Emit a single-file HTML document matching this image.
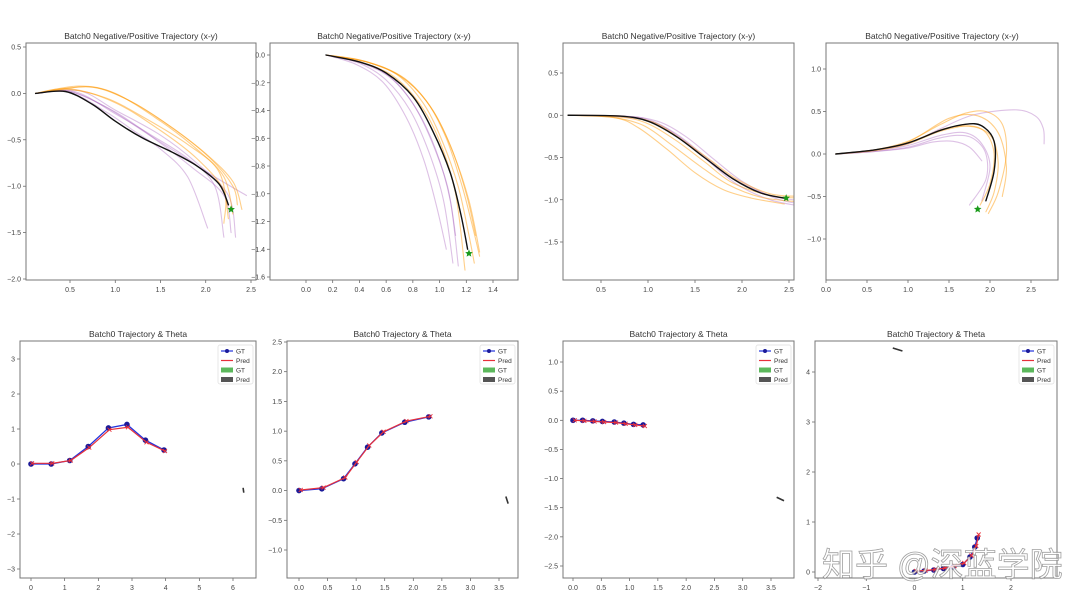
<!DOCTYPE html>
<html><head><meta charset="utf-8">
<style>
html,body{margin:0;padding:0;background:#fff;}
svg{display:block;font-family:"Liberation Sans","Noto Sans CJK SC",sans-serif;}
</style></head>
<body>
<svg id="chart" width="1080" height="608" viewBox="0 0 1080 608" xmlns="http://www.w3.org/2000/svg"></svg>
<script>
// ---- data ----
const p1Black=[[0.12,0],[0.45,0.02],[0.75,-0.12],[1.0,-0.3],[1.3,-0.48],[1.6,-0.62],[1.9,-0.78],[2.15,-0.98],[2.25,-1.2]];
const p1Orange=[
[[0.12,0],[0.5,0.06],[0.8,0.06],[1.2,-0.1],[1.6,-0.35],[2.0,-0.65],[2.3,-0.95],[2.4,-1.25]],
[[0.12,0],[0.6,0.08],[1.0,0.0],[1.5,-0.3],[1.9,-0.6],[2.2,-0.9],[2.3,-1.3]],
[[0.12,0],[0.5,0.04],[0.9,-0.05],[1.3,-0.25],[1.8,-0.55],[2.15,-0.85],[2.25,-1.35]],
[[0.12,0],[0.7,0.07],[1.1,-0.05],[1.6,-0.35],[2.05,-0.7],[2.3,-1.0],[2.35,-1.2]],
[[0.12,0],[0.5,0.05],[1.0,-0.1],[1.5,-0.4],[1.9,-0.7],[2.2,-1.05],[2.2,-1.4]]];
const p1Purple=[
[[0.12,0],[0.5,0.02],[0.9,-0.15],[1.3,-0.4],[1.7,-0.65],[2.1,-0.9],[2.45,-1.1]],
[[0.12,0],[0.5,0.01],[0.9,-0.2],[1.2,-0.4],[1.5,-0.6],[1.8,-0.9],[2.02,-1.45]],
[[0.12,0],[0.55,0.02],[1.0,-0.22],[1.4,-0.45],[1.8,-0.7],[2.1,-1.0],[2.2,-1.55]],
[[0.12,0],[0.6,0.03],[1.0,-0.18],[1.5,-0.45],[1.9,-0.75],[2.25,-1.1],[2.33,-1.55]],
[[0.12,0],[0.5,0.02],[1.0,-0.2],[1.45,-0.5],[1.85,-0.8],[2.2,-1.1],[2.28,-1.5]]];
const p1Star=[2.28,-1.25];

const p2Black=[[0.15,0],[0.4,-0.05],[0.6,-0.13],[0.8,-0.3],[0.95,-0.55],[1.08,-0.85],[1.16,-1.15],[1.21,-1.4]];
const p2Orange=[
[[0.15,0],[0.45,-0.05],[0.7,-0.15],[0.9,-0.33],[1.05,-0.6],[1.17,-0.95],[1.25,-1.25],[1.3,-1.45]],
[[0.15,0],[0.42,-0.04],[0.68,-0.14],[0.88,-0.35],[1.02,-0.62],[1.14,-0.95],[1.22,-1.3],[1.26,-1.5]],
[[0.15,0],[0.45,-0.05],[0.72,-0.16],[0.93,-0.37],[1.08,-0.65],[1.2,-1.0],[1.27,-1.3]],
[[0.15,0],[0.4,-0.05],[0.65,-0.15],[0.85,-0.35],[1.0,-0.62],[1.12,-1.0],[1.19,-1.55]],
[[0.15,0],[0.46,-0.05],[0.74,-0.17],[0.95,-0.4],[1.1,-0.7],[1.22,-1.05],[1.3,-1.42]]];
const p2Purple=[
[[0.15,0],[0.4,-0.06],[0.6,-0.18],[0.78,-0.4],[0.92,-0.7],[1.03,-1.05],[1.1,-1.5]],
[[0.15,0],[0.38,-0.07],[0.58,-0.2],[0.75,-0.45],[0.88,-0.75],[0.98,-1.1],[1.05,-1.4]],
[[0.15,0],[0.42,-0.06],[0.64,-0.17],[0.82,-0.38],[0.97,-0.68],[1.08,-1.05],[1.14,-1.52]],
[[0.15,0],[0.4,-0.05],[0.62,-0.15],[0.8,-0.35],[0.94,-0.62],[1.06,-0.95],[1.12,-1.3]]];
const p2Star=[1.22,-1.43];

const p3Black=[[0.15,0],[0.7,-0.01],[1.0,-0.07],[1.3,-0.25],[1.6,-0.5],[1.9,-0.75],[2.2,-0.92],[2.45,-0.98]];
const p3Orange=[
[[0.15,0],[0.7,-0.02],[1.0,-0.1],[1.3,-0.3],[1.6,-0.55],[1.9,-0.8],[2.3,-0.95],[2.6,-0.98]],
[[0.15,0],[0.6,-0.02],[0.95,-0.12],[1.25,-0.35],[1.55,-0.6],[1.85,-0.82],[2.2,-0.97],[2.55,-1.02]],
[[0.15,0],[0.65,-0.03],[0.9,-0.15],[1.2,-0.4],[1.5,-0.68],[1.8,-0.88],[2.1,-0.98],[2.45,-1.05]],
[[0.15,0],[0.7,-0.01],[1.05,-0.08],[1.35,-0.28],[1.65,-0.52],[1.95,-0.76],[2.3,-0.93],[2.62,-0.96]]];
const p3Purple=[
[[0.15,0],[0.7,-0.01],[1.0,-0.05],[1.3,-0.22],[1.6,-0.48],[1.9,-0.74],[2.3,-0.95],[2.7,-1.02]],
[[0.15,0],[0.7,-0.02],[1.05,-0.08],[1.35,-0.27],[1.65,-0.55],[1.95,-0.82],[2.3,-1.0],[2.65,-1.08]],
[[0.15,0],[0.75,-0.01],[1.1,-0.07],[1.4,-0.25],[1.7,-0.52],[2.0,-0.78],[2.35,-0.98],[2.62,-1.05]]];
const p3Star=[2.47,-0.98];

const p4Black=[[0.12,0],[0.6,0.05],[1.0,0.13],[1.4,0.28],[1.7,0.35],[1.9,0.33],[2.05,0.15],[2.05,-0.2],[1.95,-0.55]];
const p4Orange=[
[[0.12,0],[0.6,0.05],[1.0,0.15],[1.4,0.35],[1.7,0.48],[1.95,0.5],[2.15,0.35],[2.2,0.0],[2.1,-0.45],[1.98,-0.7]],
[[0.12,0],[0.6,0.04],[1.0,0.12],[1.4,0.27],[1.75,0.33],[1.95,0.25],[2.05,0.0],[2.0,-0.35],[1.88,-0.6]],
[[0.12,0],[0.6,0.05],[1.0,0.13],[1.45,0.3],[1.8,0.32],[2.02,0.2],[2.1,-0.1],[2.05,-0.45],[1.95,-0.68]],
[[0.12,0],[0.6,0.05],[1.0,0.14],[1.5,0.42],[1.85,0.45],[2.1,0.25],[2.2,-0.15],[2.15,-0.5]]];
const p4Purple=[
[[0.12,0],[0.6,0.05],[1.0,0.12],[1.4,0.3],[1.8,0.46],[2.3,0.52],[2.55,0.45],[2.65,0.3],[2.66,0.12]],
[[0.12,0],[0.6,0.03],[1.0,0.08],[1.35,0.18],[1.6,0.22],[1.8,0.18],[1.95,0.0],[1.95,-0.3],[1.75,-0.6]],
[[0.12,0],[0.6,0.03],[1.0,0.07],[1.3,0.14],[1.55,0.15],[1.75,0.08],[1.9,-0.08]],
[[0.12,0],[0.6,0.04],[1.0,0.1],[1.4,0.22],[1.7,0.25],[1.9,0.12],[2.0,-0.15],[1.9,-0.55]]];
const p4Star=[1.85,-0.65];

const p5X=[0,0.6,1.15,1.7,2.3,2.85,3.4,3.95];
const p5GT=[0,0,0.1,0.5,1.03,1.13,0.68,0.4];
const p5Pred=[0.02,0.02,0.1,0.47,0.98,1.05,0.62,0.37];
const p5Arrow=[[6.3,-0.68],[6.32,-0.82]];

const p6X=[0,0.4,0.78,0.98,1.2,1.45,1.85,2.27];
const p6GT=[0,0.03,0.2,0.45,0.73,0.97,1.15,1.24];
const p6Pred=[0.01,0.05,0.22,0.48,0.76,0.99,1.17,1.25];
const p6Arrow=[[3.62,-0.1],[3.66,-0.22]];

const p7X=[0,0.17,0.35,0.52,0.73,0.9,1.07,1.24];
const p7GT=[0,0,-0.01,-0.02,-0.03,-0.05,-0.07,-0.08];
const p7Pred=[0,-0.01,-0.02,-0.03,-0.04,-0.06,-0.08,-0.1];
const p7Arrow=[[3.6,-1.32],[3.73,-1.38]];

const p8X=[0,0.2,0.4,0.6,0.8,1.0,1.15,1.25,1.3];
const p8GT=[0,0.02,0.04,0.07,0.1,0.15,0.3,0.5,0.68];
const p8Pred=[0.02,0.03,0.05,0.08,0.12,0.18,0.33,0.52,0.75];
const p8Arrow=[[-0.45,4.48],[-0.25,4.42]];

// ---- panel frames / axis anchors ----
const panels=[
 {t:'Batch0 Negative/Positive Trajectory (x-y)',L:26,R:256,T:43,B:280,xa:[0.5,70,2.5,251],ya:[0.5,47,-2.0,279],xt:[0.5,1.0,1.5,2.0,2.5],yt:[0.5,0,-0.5,-1,-1.5,-2],d:1},
 {t:'Batch0 Negative/Positive Trajectory (x-y)',L:270,R:518,T:43,B:280,xa:[0,306,1.4,493],ya:[0,55,-1.6,277],xt:[0,0.2,0.4,0.6,0.8,1.0,1.2,1.4],yt:[0,-0.2,-0.4,-0.6,-0.8,-1,-1.2,-1.4,-1.6],d:1},
 {t:'Batch0 Negative/Positive Trajectory (x-y)',L:563,R:794,T:43,B:280,xa:[0.5,601,2.5,789],ya:[0.5,73,-1.5,242],xt:[0.5,1,1.5,2,2.5],yt:[0.5,0,-0.5,-1,-1.5],d:1},
 {t:'Batch0 Negative/Positive Trajectory (x-y)',L:826,R:1058,T:43,B:280,xa:[0,826,2.5,1031],ya:[1,69,-1,239],xt:[0,0.5,1,1.5,2,2.5],yt:[1,0.5,0,-0.5,-1],d:1},
 {t:'Batch0 Trajectory & Theta',L:20,R:256,T:341,B:578,xa:[0,31,6,233],ya:[3,359,-3,569],xt:[0,1,2,3,4,5,6],yt:[3,2,1,0,-1,-2,-3],d:0,leg:1},
 {t:'Batch0 Trajectory & Theta',L:287,R:518,T:341,B:578,xa:[0,299,3.5,499],ya:[2.5,342,-1,550],xt:[0,0.5,1,1.5,2,2.5,3,3.5],yt:[2.5,2,1.5,1,0.5,0,-0.5,-1],d:1,leg:1},
 {t:'Batch0 Trajectory & Theta',L:563,R:794,T:341,B:578,xa:[0,573,3.5,771],ya:[1,362,-2.5,566],xt:[0,0.5,1,1.5,2,2.5,3,3.5],yt:[1,0.5,0,-0.5,-1,-1.5,-2,-2.5],d:1,leg:1},
 {t:'Batch0 Trajectory & Theta',L:815,R:1057,T:341,B:578,xa:[-2,818,2,1011],ya:[4,372,0,572],xt:[-2,-1,0,1,2],yt:[4,3,2,1,0],d:0,leg:1}
];

const svg=document.getElementById('chart');
const NS='http://www.w3.org/2000/svg';
function mk(tag,attrs,parent){const e=document.createElementNS(NS,tag);for(const k in attrs)e.setAttribute(k,attrs[k]);(parent||svg).appendChild(e);return e;}
function scale(a){return v=>a[1]+(v-a[0])*(a[3]-a[1])/(a[2]-a[0]);}
function fmt(v,d){let s=d?v.toFixed(1):String(Math.round(v));return s.replace('-','\u2212');}
function smooth(pts){
 let d='M'+pts[0][0]+','+pts[0][1];
 for(let i=0;i<pts.length-1;i++){
  const p0=pts[i-1]||pts[i],p1=pts[i],p2=pts[i+1],p3=pts[i+2]||p2;
  const c1=[p1[0]+(p2[0]-p0[0])/6,p1[1]+(p2[1]-p0[1])/6];
  const c2=[p2[0]-(p3[0]-p1[0])/6,p2[1]-(p3[1]-p1[1])/6];
  d+=' C'+c1[0].toFixed(1)+','+c1[1].toFixed(1)+' '+c2[0].toFixed(1)+','+c2[1].toFixed(1)+' '+p2[0].toFixed(1)+','+p2[1].toFixed(1);
 }
 return d;
}
function star(g,cx,cy,r,fill){
 let p=[];for(let i=0;i<10;i++){const a=-Math.PI/2+i*Math.PI/5;const rr=i%2?r*0.45:r;p.push((cx+rr*Math.cos(a)).toFixed(1)+','+(cy+rr*Math.sin(a)).toFixed(1));}
 const s=mk('polygon',{points:p.join(' '),fill:fill},g);
 
 
}

const G=[];
panels.forEach((P,i)=>{
 const g=mk('g',{});
 
 
 P.sx=scale(P.xa);P.sy=scale(P.ya);P.g=g;G.push(P);
 const tt=mk('text',{x:(P.L+P.R)/2,y:P.T-4,'text-anchor':'middle','font-size':8.5,fill:'#333'},g);
 tt.textContent=P.t;
 
 
 const cp=mk('clipPath',{id:'c'+i},g);mk('rect',{x:P.L,y:P.T,width:P.R-P.L,height:P.B-P.T},cp);
 P.plot=mk('g',{'clip-path':'url(#c'+i+')'},g);
 
 
 const xg=mk('g',{},g);
 
 
 P.xt.forEach(v=>{const x=P.sx(v);mk('line',{x1:x,x2:x,y1:P.B,y2:P.B+3,stroke:'#555','stroke-width':0.7},xg);
  const t=mk('text',{x:x,y:P.B+12,'text-anchor':'middle','font-size':7,fill:'#444'},xg);t.textContent=fmt(v,P.d);});
 const yg=mk('g',{},g);
 
 
 P.yt.forEach(v=>{const y=P.sy(v);mk('line',{x1:P.L-3,x2:P.L,y1:y,y2:y,stroke:'#555','stroke-width':0.7},yg);
  const t=mk('text',{x:P.L-5,y:y+2.5,'text-anchor':'end','font-size':7,fill:'#444'},yg);t.textContent=fmt(v,P.d);});
 const fr=mk('rect',{x:P.L,y:P.T,width:P.R-P.L,height:P.B-P.T,fill:'none',stroke:'#777','stroke-width':1},g);
 
 
});

function line(P,pts,color,w,name){
 const px=pts.map(p=>[P.sx(p[0]),P.sy(p[1])]);
 const e=mk('path',{d:smooth(px),fill:'none',stroke:color,'stroke-width':w,'stroke-linecap':'round'},P.plot);
 
 
}
const traj=[[p1Black,p1Orange,p1Purple,p1Star],[p2Black,p2Orange,p2Purple,p2Star],[p3Black,p3Orange,p3Purple,p3Star],[p4Black,p4Orange,p4Purple,p4Star]];
traj.forEach((T,i)=>{
 const P=G[i];
 T[2].forEach(l=>line(P,l,'rgba(170,100,190,0.4)',1.1,'negative-trajectory'));
 T[1].forEach(l=>line(P,l,'rgba(255,160,20,0.5)',1.1,'positive-trajectory'));
 line(P,T[0],'#111',1.4,'gt-trajectory');
 star(P.plot,P.sx(T[3][0]),P.sy(T[3][1]),4,'#1a9a1a');
});

const bot=[[p5X,p5GT,p5Pred,p5Arrow],[p6X,p6GT,p6Pred,p6Arrow],[p7X,p7GT,p7Pred,p7Arrow],[p8X,p8GT,p8Pred,p8Arrow]];
bot.forEach((B,k)=>{
 const P=G[k+4];
 const gpts=B[0].map((x,j)=>[P.sx(x),P.sy(B[1][j])]);
 const ppts=B[0].map((x,j)=>[P.sx(x+0.03),P.sy(B[2][j])]);
 const gl=mk('polyline',{points:gpts.map(p=>p.join(',')).join(' '),fill:'none',stroke:'#2233dd','stroke-width':1.3},P.plot);
 
 
 gpts.forEach(p=>{const c=mk('circle',{cx:p[0],cy:p[1],r:2.8,fill:'#1a1a99'},P.plot);
  
  });
 const pl=mk('polyline',{points:ppts.map(p=>p.join(',')).join(' '),fill:'none',stroke:'#e8303a','stroke-width':1.2},P.plot);
 
 
 ppts.forEach(p=>{const c=mk('path',{d:`M${p[0]-2},${p[1]-2}L${p[0]+2},${p[1]+2}M${p[0]-2},${p[1]+2}L${p[0]+2},${p[1]-2}`,stroke:'#e8303a','stroke-width':0.9},P.plot);
  
  });
 const a=B[3];
 const ar=mk('line',{x1:P.sx(a[0][0]),y1:P.sy(a[0][1]),x2:P.sx(a[1][0]),y2:P.sy(a[1][1]),stroke:'#333','stroke-width':1.6},P.plot);
 
 
 // legend
 const lx=P.R-38,ly=P.T+4;
 const lg=mk('g',{},P.g);
 
 
 mk('rect',{x:lx,y:ly,width:35,height:39,fill:'#fff',stroke:'#ddd','stroke-width':0.7,rx:2},lg);
 const labels=['GT','Pred','GT','Pred'];
 labels.forEach((lab,j)=>{
  const y=ly+6+j*9.5;
  const e=mk('g',{},lg);
  
  
  if(j===0){mk('line',{x1:lx+3,x2:lx+15,y1:y,y2:y,stroke:'#2233dd','stroke-width':1.2},e);mk('circle',{cx:lx+9,cy:y,r:2,fill:'#1a1a99'},e);}
  else if(j===1){mk('line',{x1:lx+3,x2:lx+15,y1:y,y2:y,stroke:'#e8303a','stroke-width':1.2},e);}
  else mk('rect',{x:lx+3,y:y-2.5,width:12,height:5,fill:j===2?'#5cb85c':'#555'},e);
  const t=mk('text',{x:lx+18,y:y+2.3,'font-size':6.5,fill:'#333'},e);t.textContent=lab;
 });
});

const wm=mk('text',{x:822,y:576,'font-size':33,fill:'rgba(255,255,255,0.8)',stroke:'rgba(120,120,120,0.7)','stroke-width':0.8,'font-family':'"Liberation Sans","Noto Sans CJK SC",sans-serif'});
wm.textContent='知乎 @深蓝学院';


</script>
</body></html>
